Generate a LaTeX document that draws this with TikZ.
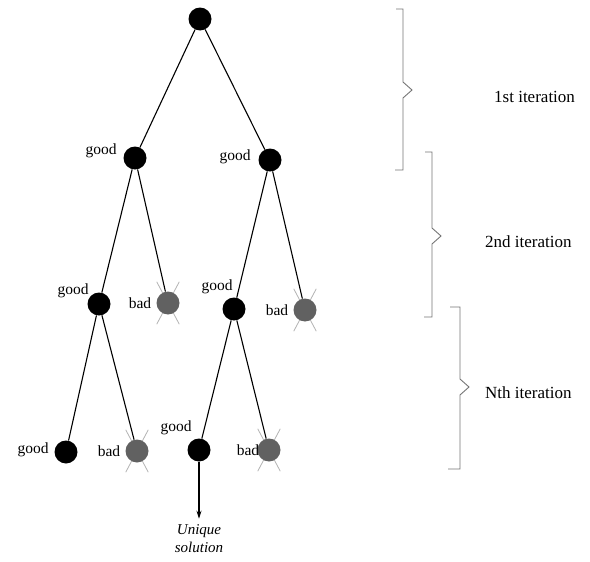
\documentclass[tikz,border=0pt]{standalone}
\usepackage{fontspec}
\setmainfont{Liberation Serif}
\usetikzlibrary{arrows.meta}
\begin{document}
\begin{tikzpicture}[x=1pt,y=-1pt,
  good/.style={circle,fill=black,minimum size=23pt,inner sep=0pt},
  bad/.style={circle,fill=black!62,minimum size=23pt,inner sep=0pt},
  lbl/.style={font=\fontsize{15.5}{17}\selectfont,inner sep=0pt},
  itl/.style={font=\fontsize{17}{19}\selectfont,inner sep=0pt,anchor=west},
  edge/.style={line width=1.1pt,black},
  brc/.style={line width=0.9pt,black!55},
  crs/.style={line width=0.8pt,black!30}]
\useasboundingbox (0,0) rectangle (590,562);
% crosses behind bad nodes
\foreach \p in {(168,303),(305,310),(137,451),(269,450)}{
  \draw[crs] \p ++(62:-24) -- ++(62:48);
  \draw[crs] \p ++(118:-24) -- ++(118:48);
}
\node[good] (n0) at (200,19) {};
\node[good] (n1) at (135,158) {};
\node[good] (n2) at (270,160) {};
\node[good] (n3) at (99,304) {};
\node[bad]  (n4) at (168,303) {};
\node[good] (n5) at (234,309) {};
\node[bad]  (n6) at (305,310) {};
\node[good] (n7) at (66,452) {};
\node[bad]  (n8) at (137,451) {};
\node[good] (n9) at (199,450) {};
\node[bad]  (n10) at (269,450) {};
\draw[edge] (n0) -- (n1);
\draw[edge] (n0) -- (n2);
\draw[edge] (n1) -- (n3);
\draw[edge] (n1) -- (n4);
\draw[edge] (n2) -- (n5);
\draw[edge] (n2) -- (n6);
\draw[edge] (n3) -- (n7);
\draw[edge] (n3) -- (n8);
\draw[edge] (n5) -- (n9);
\draw[edge] (n5) -- (n10);
% labels
\node[lbl] (l1) at (101,151) {good};
\node[lbl] (l2) at (235,157) {good};
\node[lbl] (l3) at (73,291) {good};
\node[lbl] (l4) at (140,303) {bad};
\node[lbl] (l5) at (217,287) {good};
\node[lbl] (l6) at (277,310) {bad};
\node[lbl] (l7) at (33,450) {good};
\node[lbl] (l8) at (109,451) {bad};
\node[lbl] (l9) at (176,428) {good};
\node[lbl] (l10) at (248,450) {bad};
% unique solution
\node[lbl,align=center,font=\fontsize{15}{18}\selectfont\itshape] (sol) at (199,539) {Unique\\solution};
\draw[line width=1.1pt,-{Stealth[length=8pt,width=5pt]},shorten >=6pt] (n9) -- (sol);
% braces
\draw[brc] (396,9) -- (403,9) -- (403,82) -- (412,90) -- (403,98) -- (403,170) -- (395,170);
\draw[brc] (425,152) -- (432,152) -- (432,228) -- (441,236) -- (432,244) -- (432,317) -- (424,317);
\draw[brc] (450,307) -- (460,307) -- (460,379) -- (469,387) -- (460,395) -- (460,469) -- (448,469);
\node[itl] (t1) at (494,97) {1st iteration};
\node[itl] (t2) at (485,242) {2nd iteration};
\node[itl] (t3) at (485,393) {Nth iteration};
\end{tikzpicture}
\end{document}
